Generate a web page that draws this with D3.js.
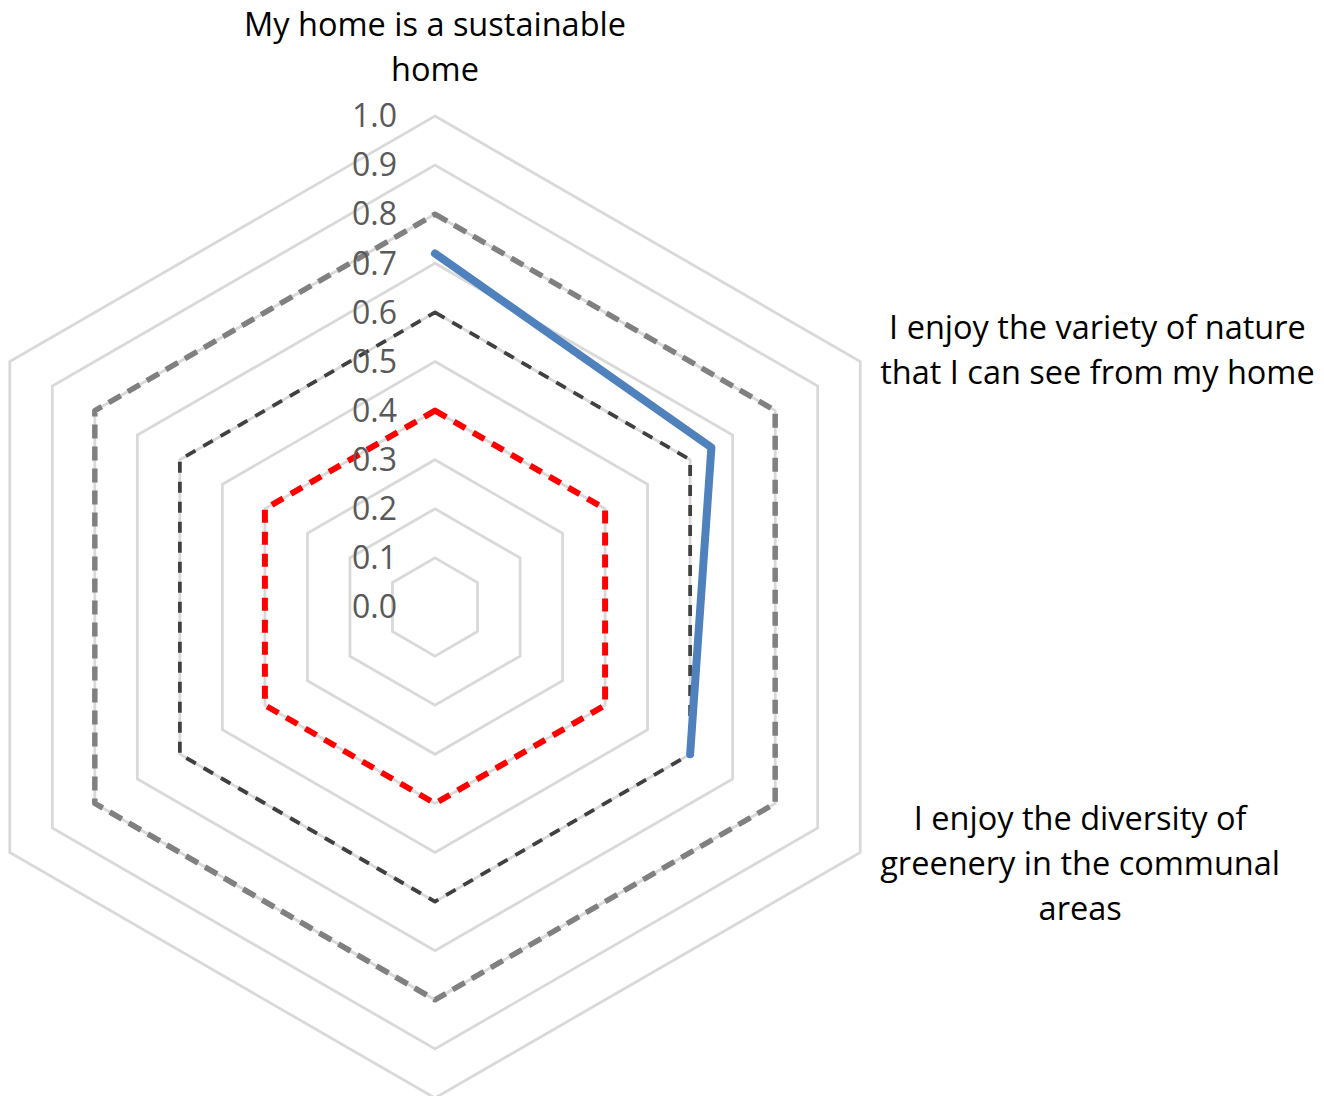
<!DOCTYPE html>
<html>
<head>
<meta charset="utf-8">
<script src="https://cdn.jsdelivr.net/npm/d3@7"></script>
<style>
  html, body { margin: 0; padding: 0; background: #fff; }
  svg { display: block; }
  text { font-family: "Open Sans", Lato, sans-serif; }
</style>
</head>
<body>
<svg id="chart" width="1324" height="1096"></svg>
<script>
// Radar axes (only the first three carry statements)
const categories = [
  ["My home is a sustainable", "home"],
  ["I enjoy the variety of nature", "that I can see from my home"],
  ["I enjoy the diversity of", "greenery in the communal", "areas"],
  [""], [""], [""]
];

// Mean agreement score per statement (blank where not asked)
const scores = [0.72, 0.65, 0.60, null, null, null];

// Reference bands drawn as closed dashed rings
const band80 = [0.8, 0.8, 0.8, 0.8, 0.8, 0.8];
const band60 = [0.6, 0.6, 0.6, 0.6, 0.6, 0.6];
const band40 = [0.4, 0.4, 0.4, 0.4, 0.4, 0.4];

const tickValues = [0.0, 0.1, 0.2, 0.3, 0.4, 0.5, 0.6, 0.7, 0.8, 0.9, 1.0];

const svg = d3.select("#chart");
const cx = 435, cy = 607, R = 491;

const r = d3.scaleLinear().domain([0, 1]).range([0, R]);
const angle = d3.scaleLinear().domain([0, categories.length]).range([0, 2 * Math.PI]);

const g = svg.append("g").attr("transform", `translate(${cx},${cy})`);

// grid rings
const ringLine = d3.lineRadial()
  .angle((d, i) => angle(i))
  .radius(d => r(d))
  .curve(d3.curveLinearClosed);

g.append("g").selectAll("path")
  .data(tickValues.filter(t => t > 0))
  .join("path")
  .attr("d", t => ringLine(categories.map(() => t)))
  .attr("fill", "none")
  .attr("stroke", "#d9d9d9")
  .attr("stroke-width", 2.8);

// dashed reference rings
const bands = [
  { values: band80, color: "#808080", width: 5.5, dash: "14 8" },
  { values: band60, color: "#404040", width: 3.8, dash: "11 9" },
  { values: band40, color: "#ff0000", width: 6, dash: "13 9" }
];
g.append("g").selectAll("path")
  .data(bands)
  .join("path")
  .attr("d", b => ringLine(b.values))
  .attr("fill", "none")
  .attr("stroke", b => b.color)
  .attr("stroke-width", b => b.width)
  .attr("stroke-dasharray", b => b.dash)
  .attr("stroke-linejoin", "round");

// score line (open, stops at missing values)
const scoreLine = d3.lineRadial()
  .defined(d => d != null)
  .angle((d, i) => angle(i))
  .radius(d => r(d))
  .curve(d3.curveLinear);

g.append("path")
  .attr("d", scoreLine(scores))
  .attr("fill", "none")
  .attr("stroke", "#4f81bd")
  .attr("stroke-width", 8)
  .attr("stroke-linejoin", "round")
  .attr("stroke-linecap", "round");

// value ticks up the top axis
g.append("g").selectAll("text")
  .data(tickValues)
  .join("text")
  .attr("x", -38)
  .attr("y", t => -r(t))
  .attr("dy", "0.35em")
  .attr("text-anchor", "end")
  .attr("fill", "#595959")
  .attr("font-size", 32)
  .text(t => d3.format(".1f")(t));

// category labels placed just outside each axis end
const lineH = 45;
const labels = g.append("g");
categories.forEach((lines, i) => {
  if (!lines.join("")) return;
  const a = angle(i);
  const ex = Math.sin(a) * R, ey = -Math.cos(a) * R;
  const t = labels.append("text")
    .attr("font-size", 32.5)
    .attr("fill", "#000")
    .attr("text-anchor", "middle");
  lines.forEach((s, k) => t.append("tspan").attr("x", 0).attr("y", k * lineH).attr("dy", "0.35em").text(s));
  const bb = t.node().getBBox();
  const n = lines.length;
  let tx, ty;
  if (Math.abs(ex) < 1) {
    // top axis: centred above the end point
    tx = ex;
    ty = ey - 46 - (n - 1) * lineH;
  } else {
    tx = ex + 20 + bb.width / 2;
    ty = ey + Math.sign(ey) * 11 - ((n - 1) * lineH) / 2;
  }
  t.attr("transform", `translate(${tx},${ty})`);
});
</script>
</body>
</html>
